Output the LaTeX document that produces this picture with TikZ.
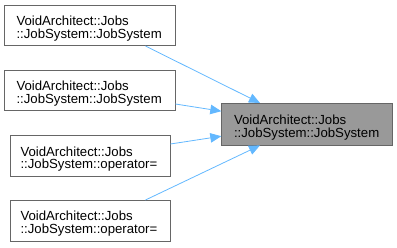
\documentclass[tikz,border=0pt]{standalone}
\usepackage{fontspec}
\setmainfont{Liberation Sans}
\usetikzlibrary{arrows.meta,calc}
\definecolor{edgeblue}{HTML}{63B8FF}
\definecolor{boxline}{HTML}{666666}
\definecolor{hilite}{HTML}{999999}
\tikzset{
  fn/.style={draw=boxline, fill=white, line width=0.9pt, inner sep=0pt,
    minimum height=40.5pt},
  fntext/.style={align=left, inner sep=0pt, yshift=-3pt,
    font=\fontsize{13.2}{12.8}\selectfont},
  call/.style={draw=edgeblue, line width=0.8pt,
    -{Triangle[length=11pt,width=9.5pt]}},
}
\begin{document}
\begin{tikzpicture}[x=1pt,y=-1pt]
  \useasboundingbox (0,0) rectangle (397,247);
  % callers
  \node[fn, minimum width=171pt,
    label={[fntext, text width=146pt]center:VoidArchitect::Jobs\\::JobSystem::JobSystem}]
    (c1) at (89.5,25.3) {};
  \node[fn, minimum width=171pt,
    label={[fntext, text width=146pt]center:VoidArchitect::Jobs\\::JobSystem::JobSystem}]
    (c2) at (89.5,90.5) {};
  \node[fn, minimum width=160pt,
    label={[fntext, text width=139pt]center:VoidArchitect::Jobs\\::JobSystem::operator=}]
    (c3) at (90,156) {};
  \node[fn, minimum width=160pt,
    label={[fntext, text width=139pt]center:VoidArchitect::Jobs\\::JobSystem::operator=}]
    (c4) at (90,220.7) {};
  % callee
  \node[fn, fill=hilite, minimum width=170.5pt, minimum height=41.5pt,
    label={[fntext, text width=146pt]center:VoidArchitect::Jobs\\::JobSystem::JobSystem}]
    (t) at (307,124.2) {};
  % call edges
  \draw[call] ([xshift=-30pt]c1.south east) -- ([xshift=-47pt]t.north);
  \draw[call] ([yshift=-13.5pt]c2.east) -- ([yshift=13pt]t.west);
  \draw[call] ([yshift=12pt]c3.east) -- ([yshift=-12pt]t.west);
  \draw[call] ([xshift=-25pt]c4.north east) -- ([xshift=-47pt]t.south);
\end{tikzpicture}
\end{document}
